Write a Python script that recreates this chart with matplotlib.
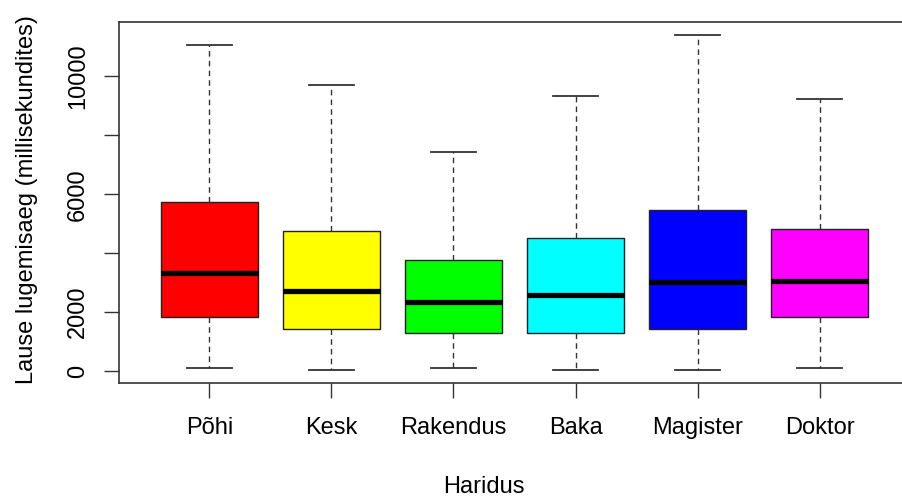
import matplotlib.pyplot as plt

plt.rcParams['font.family'] = ['Liberation Sans', 'DejaVu Sans']

# andmed (loetud jooniselt)
haridus = ['Põhi', 'Kesk', 'Rakendus', 'Baka', 'Magister', 'Doktor']
alumine = [110, 50, 110, 45, 45, 90]
q1 = [1843, 1425, 1300, 1300, 1415, 1843]
mediaan = [3336, 2704, 2352, 2569, 3010, 3054]
q3 = [5735, 4751, 3767, 4503, 5463, 4829]
ulemine = [11052, 9705, 7431, 9332, 11401, 9230]
varvid = ['#FF0000', '#FFFF00', '#00FF00', '#00FFFF', '#0000FF', '#FF00FF']

yticks = [0, 2000, 4000, 6000, 8000, 10000]
ytick_labels = ['0', '2000', '', '6000', '', '10000']

fig = plt.figure(figsize=(9.03, 4.98), dpi=100)
ax = fig.add_axes([119/903, 115/498, 791/903, 361/498])

stats = []
for i in range(len(haridus)):
    stats.append({'whislo': alumine[i], 'q1': q1[i], 'med': mediaan[i],
                  'q3': q3[i], 'whishi': ulemine[i], 'fliers': []})

pos = list(range(1, len(haridus) + 1))
bp = ax.bxp(stats, positions=pos, widths=0.8, patch_artist=True,
            showfliers=False, capwidths=0.37,
            boxprops=dict(edgecolor='#222222', linewidth=1.0),
            medianprops=dict(color='black', linewidth=3.8, solid_capstyle='butt'),
            whiskerprops=dict(color='#333333', linewidth=1.0, linestyle=(0, (4, 3))),
            capprops=dict(color='#333333', linewidth=1.3))
for patch, c in zip(bp['boxes'], varvid):
    patch.set_facecolor(c)

ax.set_xlim(0.26, 6.74)
ax.set_ylim(-407, 11843)
ax.set_xticks(pos)
ax.set_xticklabels(haridus, fontsize=17)
ax.set_yticks(yticks)
ax.set_yticklabels(ytick_labels, fontsize=17, rotation=90, va='center')
ax.tick_params(axis='x', length=10.5, width=1.0, pad=14, color='#333333')
ax.tick_params(axis='y', length=10.5, width=1.0, pad=11, color='#333333')
for s in ax.spines.values():
    s.set_linewidth(1.2)
    s.set_color('#333333')

fig.text(484/903, 1 - 487/498, 'Haridus', fontsize=17, ha='center', va='center')
fig.text(27/903, 1 - 200/498, 'Lause lugemisaeg (millisekundites)', fontsize=17,
         ha='center', va='center', rotation=90)

fig.savefig('out.png', dpi=100)
